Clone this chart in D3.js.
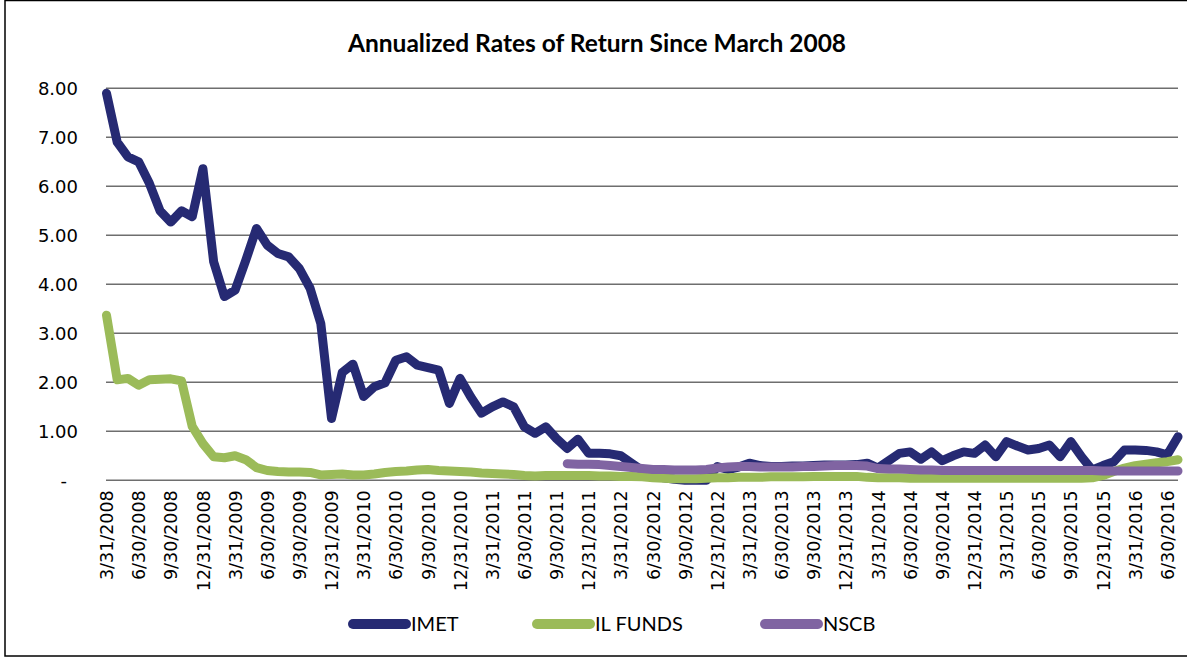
<!DOCTYPE html>
<html>
<head>
<meta charset="utf-8">
<script src="https://cdn.jsdelivr.net/npm/d3@7"></script>
<style>
  body { margin: 0; background: #fff; }
  svg { display: block; font-family: Lato, "Open Sans", sans-serif; }
</style>
</head>
<body>
<div id="chart"></div>
<script>
// monthly month-end dates, 3/31/2008 .. 7/31/2016
const months = d3.timeMonth.range(new Date(2008, 2, 1), new Date(2016, 7, 1));
const dates = months.map(m => {
    const end = d3.timeDay.offset(d3.timeMonth.offset(m, 1), -1);
    return (end.getMonth() + 1) + '/' + end.getDate() + '/' + end.getFullYear();
});

const imet = [
    7.90, 6.90, 6.60, 6.50, 6.06, 5.50, 5.27, 5.50, 5.38, 6.36,
    4.46, 3.75, 3.88, 4.49, 5.14, 4.80, 4.63, 4.56, 4.32, 3.92,
    3.20, 1.26, 2.20, 2.37, 1.71, 1.91, 1.99, 2.45, 2.52, 2.35,
    2.30, 2.25, 1.57, 2.08, 1.70, 1.37, 1.50, 1.60, 1.50, 1.09,
    0.96, 1.09, 0.85, 0.65, 0.84, 0.55, 0.55, 0.54, 0.50, 0.35,
    0.20, 0.10, 0.05, 0.02, 0.00, 0.00, 0.00, 0.28, 0.22, 0.27,
    0.35, 0.30, 0.28, 0.28, 0.29, 0.29, 0.30, 0.31, 0.31, 0.31,
    0.32, 0.35, 0.25, 0.40, 0.55, 0.58, 0.43, 0.58, 0.40, 0.50,
    0.58, 0.55, 0.72, 0.48, 0.79, 0.70, 0.62, 0.65, 0.72, 0.48,
    0.79, 0.48, 0.21, 0.30, 0.38, 0.62, 0.62, 0.61, 0.58, 0.52,
    0.89
];

const ilFunds = [
    3.37, 2.05, 2.08, 1.94, 2.05, 2.06, 2.07, 2.03, 1.10, 0.75,
    0.48, 0.46, 0.50, 0.42, 0.26, 0.20, 0.18, 0.17, 0.17, 0.16,
    0.11, 0.12, 0.13, 0.11, 0.11, 0.13, 0.16, 0.18, 0.19, 0.21,
    0.22, 0.20, 0.19, 0.18, 0.17, 0.15, 0.14, 0.13, 0.12, 0.10,
    0.09, 0.10, 0.10, 0.10, 0.10, 0.10, 0.09, 0.09, 0.08, 0.08,
    0.07, 0.05, 0.04, 0.03, 0.03, 0.03, 0.04, 0.05, 0.05, 0.06,
    0.06, 0.06, 0.07, 0.07, 0.07, 0.07, 0.08, 0.08, 0.08, 0.08,
    0.08, 0.06, 0.05, 0.05, 0.05, 0.04, 0.04, 0.04, 0.04, 0.04,
    0.04, 0.04, 0.04, 0.04, 0.04, 0.04, 0.04, 0.04, 0.04, 0.04,
    0.04, 0.04, 0.05, 0.10, 0.18, 0.25, 0.30, 0.33, 0.36, 0.38,
    0.42
];

// NSCB starts at 10/31/2011
const nscb = [
    null, null, null, null, null, null, null, null, null, null,
    null, null, null, null, null, null, null, null, null, null,
    null, null, null, null, null, null, null, null, null, null,
    null, null, null, null, null, null, null, null, null, null,
    null, null, null, 0.34, 0.33, 0.33, 0.32, 0.30, 0.28, 0.26,
    0.24, 0.22, 0.22, 0.21, 0.21, 0.21, 0.22, 0.25, 0.27, 0.28,
    0.28, 0.27, 0.27, 0.27, 0.27, 0.28, 0.28, 0.29, 0.30, 0.30,
    0.30, 0.29, 0.24, 0.23, 0.23, 0.22, 0.21, 0.21, 0.20, 0.20,
    0.20, 0.20, 0.20, 0.20, 0.20, 0.20, 0.20, 0.20, 0.20, 0.20,
    0.20, 0.20, 0.20, 0.19, 0.19, 0.19, 0.19, 0.19, 0.19, 0.19,
    0.19
];

const yTicks = [0, 1, 2, 3, 4, 5, 6, 7, 8];

const seriesNames = ['IMET', 'IL FUNDS', 'NSCB'];
const seriesColors = ['#262a73', '#9bbb59', '#8064a2'];
const seriesData = [imet, ilFunds, nscb];

const W = 1187, H = 658;
const svg = d3.select('#chart').append('svg')
    .attr('width', W).attr('height', H);

// outer frame
svg.append('rect')
    .attr('x', 5).attr('y', 0.5)
    .attr('width', W + 10).attr('height', 655.5)
    .attr('fill', 'none').attr('stroke', '#000').attr('stroke-width', 1.5);

const x = d3.scalePoint().domain(dates).range([106.5, 1178]);
const y = d3.scaleLinear().domain([0, 8]).range([480.3, 88.3]);

// title
svg.append('text')
    .attr('x', 597).attr('y', 52)
    .attr('text-anchor', 'middle')
    .style('font-size', '24.5px').style('font-weight', '700')
    .text('Annualized Rates of Return Since March 2008');

// gridlines
svg.append('g')
    .selectAll('line')
    .data(yTicks)
    .join('line')
    .attr('x1', 106).attr('x2', 1178)
    .attr('y1', d => y(d)).attr('y2', d => y(d))
    .attr('stroke', '#6e6e6e').attr('stroke-width', 1.5);

// y axis labels
const yAxis = svg.append('g')
    .attr('transform', 'translate(78,0)')
    .call(d3.axisLeft(y).tickValues(yTicks).tickSize(0).tickPadding(0)
        .tickFormat(d => d === 0 ? '-' : d3.format('.2f')(d)));
yAxis.select('.domain').remove();
yAxis.selectAll('text')
    .style('font-size', '18px').style('font-family', '"DejaVu Sans", sans-serif').attr('fill', '#000');
yAxis.selectAll('.tick').filter(d => d === 0).select('text').attr('x', -11);

// x axis labels (every quarter)
const xAxis = svg.append('g')
    .attr('transform', `translate(0,${y(0)})`)
    .call(d3.axisBottom(x).tickValues(dates.filter((d, i) => i % 3 === 0)).tickSize(0));
xAxis.select('.domain').remove();
xAxis.selectAll('text')
    .attr('transform', 'rotate(-90)')
    .attr('text-anchor', 'end')
    .attr('x', -10).attr('y', 0).attr('dy', '0.35em')
    .style('font-size', '17.5px').style('font-family', '"DejaVu Sans", sans-serif').attr('fill', '#000');

// lines
const line = d3.line()
    .defined(d => d != null)
    .x((d, i) => x(dates[i]))
    .y(d => y(d));

seriesData.forEach((s, k) => {
    svg.append('path')
        .datum(s)
        .attr('fill', 'none')
        .attr('stroke', seriesColors[k])
        .attr('stroke-width', 9)
        .attr('stroke-linejoin', 'round')
        .attr('stroke-linecap', 'round')
        .attr('d', line);
});

// legend
const legendX = [353, 537, 765];
const lg = svg.append('g');
seriesNames.forEach((name, k) => {
    lg.append('line')
        .attr('x1', legendX[k]).attr('x2', legendX[k] + 53)
        .attr('y1', 624).attr('y2', 624)
        .attr('stroke', seriesColors[k]).attr('stroke-width', 10)
        .attr('stroke-linecap', 'round');
    lg.append('text')
        .attr('x', legendX[k] + 58).attr('y', 631)
        .style('font-size', '20px')
        .text(name);
});
</script>
</body>
</html>
